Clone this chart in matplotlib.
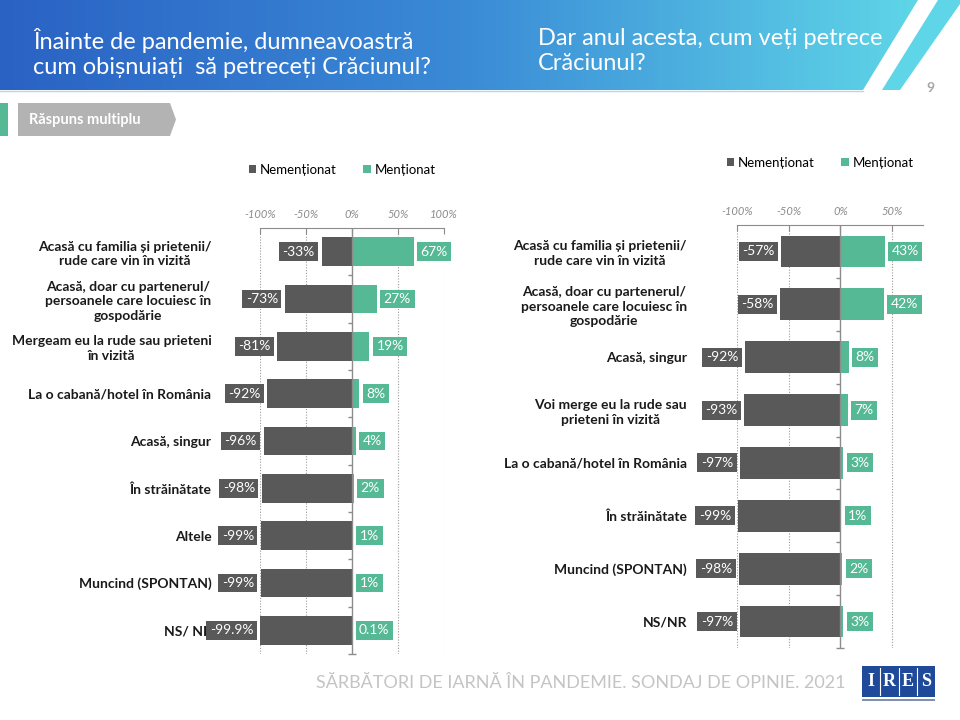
import matplotlib
matplotlib.use("Agg")
import matplotlib.pyplot as plt
import numpy as np
from matplotlib.patches import Polygon, Rectangle

plt.rcParams['font.family'] = ['Lato', 'DejaVu Sans']

# ---- data
cats_before = ["Acasă cu familia și prietenii/\nrude care vin în vizită",
               "Acasă, doar cu partenerul/\npersoanele care locuiesc în\ngospodărie",
               "Mergeam eu la rude sau prieteni\nîn vizită",
               "La o cabană/hotel în România",
               "Acasă, singur",
               "În străinătate",
               "Altele",
               "Muncind (SPONTAN)",
               "NS/ NR"]
ment_before = [67, 27, 19, 8, 4, 2, 1, 1, 0.1]
nement_before = [-33, -73, -81, -92, -96, -98, -99, -99, -99.9]

cats_now = ["Acasă cu familia și prietenii/\nrude care vin în vizită",
            "Acasă, doar cu partenerul/\npersoanele care locuiesc în\ngospodărie",
            "Acasă, singur",
            "Voi merge eu la rude sau\nprieteni în vizită",
            "La o cabană/hotel în România",
            "În străinătate",
            "Muncind (SPONTAN)",
            "NS/NR"]
ment_now = [43, 42, 8, 7, 3, 1, 2, 3]
nement_now = [-57, -58, -92, -93, -97, -99, -98, -97]

ticks_before = [-100, -50, 0, 50, 100]
ticks_now = [-100, -50, 0, 50]

GREY = '#595959'
GREEN = '#55b995'

fig = plt.figure(figsize=(9.6, 7.2), dpi=100)

# ---- background / header drawn in pixel coords
bg = fig.add_axes([0, 0, 1, 1], zorder=0)
bg.set_xlim(0, 960)
bg.set_ylim(720, 0)
bg.axis('off')

grad = np.linspace(0, 1, 256).reshape(1, -1)
cmap = matplotlib.colors.LinearSegmentedColormap.from_list('hdr', ['#2a62c4', '#3a8ad6', '#5fd6e8'])
im = bg.imshow(grad, extent=(0, 920, 90, 0), cmap=cmap, aspect='auto', zorder=1)
band = Polygon([(0, 0), (918, 0), (863, 90), (0, 90)], closed=True, transform=bg.transData)
im.set_clip_path(band)
bg.add_patch(Polygon([(938, 0), (960, 0), (960, 4), (900, 90), (882, 90)], closed=True,
                     facecolor='#5fd6e8', edgecolor='none', zorder=1))
bg.plot([0, 863], [90.5, 90.5], color='#b8d4ee', lw=1, zorder=1)

bg.text(33, 53, "Înainte de pandemie, dumneavoastră\ncum obișnuiați  să petreceți Crăciunul?",
        color='white', fontsize=17, va='center', ha='left', linespacing=1.2, zorder=2)
bg.text(538, 51, "Dar anul acesta, cum veți petrece\nCrăciunul?",
        color='white', fontsize=17, va='center', ha='left', linespacing=1.2, zorder=2)
bg.text(930, 88, "9", color='#a6a6a6', fontsize=10, fontweight='bold', ha='center', va='center')

# "Raspuns multiplu" tag
bg.add_patch(Rectangle((0, 103), 8, 33, facecolor=GREEN, edgecolor='none'))
bg.add_patch(Polygon([(18, 103), (170, 103), (176, 119.5), (170, 136), (18, 136)], closed=True,
                     facecolor='#b3b3b3', edgecolor='none'))
bg.text(29, 120, "Răspuns multiplu", color='white', fontsize=10.5, fontweight='bold', va='center', ha='left')

# footer
bg.text(845, 683, "SĂRBĂTORI DE IARNĂ ÎN PANDEMIE. SONDAJ DE OPINIE. 2021", color='#c4c4c4',
        fontsize=13, ha='right', va='center')
bg.add_patch(Rectangle((862, 666), 73, 31, facecolor='#1f4a9a', edgecolor='none'))
for i, letter in enumerate("IRES"):
    bg.text(862 + 73 / 8 * (2 * i + 1), 682, letter, color='white', fontsize=13,
            family='Liberation Serif', fontweight='bold', ha='center', va='center')
    if i:
        bg.plot([862 + 73 / 4 * i] * 2, [668, 695], color='white', lw=0.8)
bg.add_patch(Rectangle((862, 699), 73, 2, facecolor='#8090b0', edgecolor='none'))


def draw(rect, cats, neg, pos, xlim, ticks, pad_pt, legend_y):
    ax = fig.add_axes(rect, zorder=2)
    ax.patch.set_alpha(0)
    y = np.arange(len(cats))
    ax.barh(y, neg, height=0.6, color=GREY, zorder=2)
    ax.barh(y, pos, height=0.6, color=GREEN, zorder=2)
    ax.set_xlim(*xlim)
    ax.set_ylim(len(cats) - 0.5, -0.5)

    for yy, v in zip(y, neg):
        ax.annotate(f"{v:g}%", (v, yy), xytext=(-5, 0), textcoords='offset points',
                    ha='right', va='center', color='white', fontsize=10, annotation_clip=False,
                    bbox=dict(boxstyle='square,pad=0.25', fc=GREY, ec='none'), zorder=3)
    for yy, v in zip(y, pos):
        ax.annotate(f"{v:g}%", (v, yy), xytext=(5, 0), textcoords='offset points',
                    ha='left', va='center', color='white', fontsize=10, annotation_clip=False,
                    bbox=dict(boxstyle='square,pad=0.25', fc=GREEN, ec='none'), zorder=3)

    # top axis
    ax.xaxis.tick_top()
    ax.set_xticks(ticks)
    ax.set_xticklabels([f"{t}%" for t in ticks], fontstyle='italic', color='#8c8c8c', fontsize=8)
    ax.tick_params(axis='x', direction='in', length=4, color='#8c8c8c', pad=6)
    for t in ticks:
        if t != 0:
            ax.axvline(t, color='#9a9a9a', lw=0.8, ls=(0, (1, 1.5)), zorder=1)
    for s in ['left', 'right', 'bottom']:
        ax.spines[s].set_visible(False)
    ax.spines['top'].set_color('#8c8c8c')

    # zero line with separators
    ax.axvline(0, color='#8c8c8c', lw=1, zorder=2.5)
    ax.hlines(y[:-1] + 0.5, -(xlim[1] - xlim[0]) * 0.022, 0, color='#8c8c8c', lw=1, zorder=2.5)
    ax.hlines([len(cats) - 0.5], -(xlim[1] - xlim[0]) * 0.022, (xlim[1] - xlim[0]) * 0.022,
              color='#8c8c8c', lw=1, zorder=2.5, clip_on=False)

    ax.set_yticks(y)
    ax.set_yticklabels(cats, fontsize=10, fontweight='bold', color='#1a1a1a', linespacing=1.25)
    for t in ax.get_yticklabels():
        t.set_multialignment('center')
    ax.tick_params(axis='y', length=0, pad=pad_pt)

    h1 = Rectangle((0, 0), 1, 1, fc=GREY)
    h2 = Rectangle((0, 0), 1, 1, fc=GREEN)
    fig.legend([h1, h2], ["Nemenționat", "Menționat"], loc='center',
               bbox_to_anchor=(rect[0] + rect[2] / 2 - 0.01, legend_y), ncol=2, frameon=False,
               fontsize=9.5, handlelength=0.55, handleheight=0.55, handletextpad=0.3,
               columnspacing=2.0)
    return ax


draw([260 / 960, 1 - 654 / 720, 184 / 960, 426 / 720], cats_before, nement_before, ment_before,
     (-100, 100), ticks_before, 35, 1 - 170 / 720)
draw([737 / 960, 1 - 648 / 720, 186 / 960, 423 / 720], cats_now, nement_now, ment_now,
     (-100, 80), ticks_now, 36, 1 - 163 / 720)

fig.savefig("out.png", dpi=100)
